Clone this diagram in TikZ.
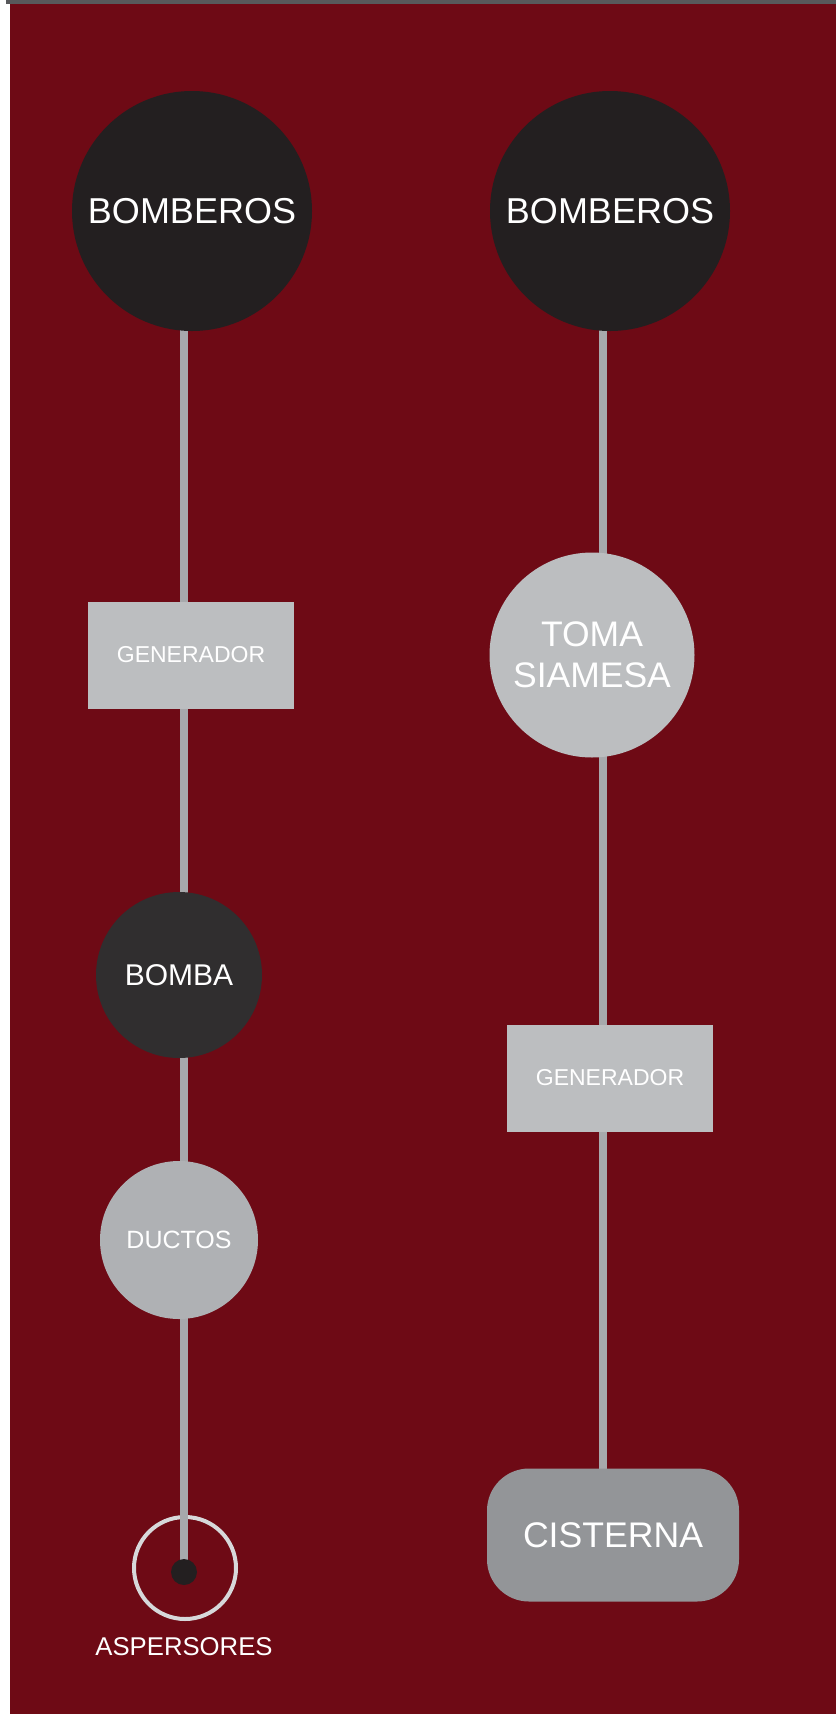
\documentclass[tikz,border=0pt]{standalone}
\usepackage{fontspec}
\setmainfont{Liberation Sans}
\usepackage{xcolor}
\usepackage{tikz}
\usetikzlibrary{backgrounds}
\definecolor{fondo}{RGB}{110,10,21}
\definecolor{barra}{RGB}{88,89,91}
\definecolor{negro}{RGB}{35,31,32}
\definecolor{bombacol}{RGB}{48,46,47}
\definecolor{grisclaro}{RGB}{188,190,192}
\definecolor{grisducto}{RGB}{175,177,180}
\definecolor{grisoscuro}{RGB}{147,149,152}
\definecolor{tubo}{RGB}{167,169,172}
\definecolor{anillo}{RGB}{215,216,218}

\newcommand{\fsz}[1]{\fontsize{#1}{#1}\selectfont}

\tikzset{
  pipe/.style={tubo, line width=8pt},
  bubble/.style={circle, inner sep=0pt, text=white, align=center},
  genbox/.style={rectangle, fill=grisclaro, minimum width=206pt, minimum height=107pt,
    inner sep=0pt, text=white, font=\fsz{23}},
}

\begin{document}
\begin{tikzpicture}[x=1pt,y=-1pt]
  \useasboundingbox (0,0) rectangle (836,1714);

  \coordinate (colL) at (184,0);
  \coordinate (colR) at (603,0);

  % columna izquierda
  \node[bubble, fill=negro, minimum size=240pt, font=\fsz{36}] (bomL) at (192,211) {BOMBEROS};
  \node[genbox] (genL) at (191,655) {GENERADOR};
  \node[bubble, fill=bombacol, minimum size=166pt, font=\fsz{30}] (bomba) at (179,975) {BOMBA};
  \node[bubble, fill=grisducto, minimum size=158pt, font=\fsz{25}] (ductos) at (179,1240) {DUCTOS};
  \node[circle, fill=negro, minimum size=26pt, inner sep=0pt] (spr) at (184,1572) {};
  \node[text=white, font=\fsz{25.7}] (sprtxt) at (184,1647) {ASPERSORES};

  % columna derecha
  \node[bubble, fill=negro, minimum size=240pt, font=\fsz{36}] (bomR) at (610,211) {BOMBEROS};
  \node[bubble, fill=grisclaro, minimum size=205pt, font=\fontsize{35.5}{41}\selectfont] (toma) at (592,655) {TOMA\\SIAMESA};
  \node[genbox] (genR) at (610,1078) {GENERADOR};
  \node[rectangle, rounded corners=42pt, fill=grisoscuro, minimum width=252pt, minimum height=133pt,
    inner sep=0pt, text=white, font=\fsz{35.6}] (cist) at (613,1535) {CISTERNA};

  \begin{pgfonlayer}{background}
    \fill[white] (0,0) rectangle (836,1714);
    \fill[barra] (6,0) rectangle (836,4);
    \fill[fondo] (10,4) rectangle (836,1714);
    \draw[anillo, line width=4pt] (185,1568) circle (51pt);
    \draw[pipe] (bomL.center -| colL) -- (genL.center -| colL) -- (bomba.center -| colL)
      -- (ductos.center -| colL) -- (spr.center);
    \draw[pipe] (bomR.center -| colR) -- (toma.center -| colR) -- (genR.center -| colR)
      -- (cist.center -| colR);
  \end{pgfonlayer}
\end{tikzpicture}
\end{document}
